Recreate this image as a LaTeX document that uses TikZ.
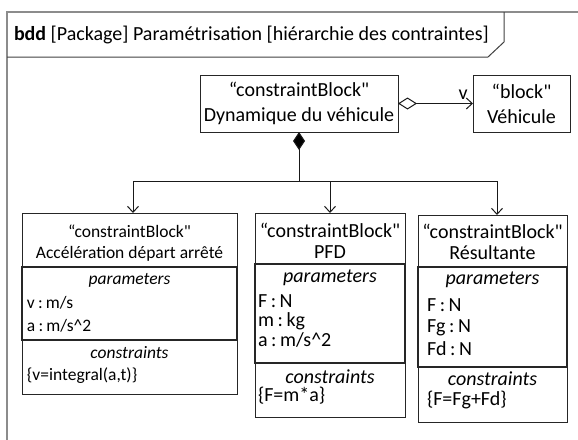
\documentclass[tikz,border=0pt]{standalone}
\usepackage{fontspec}
\setmainfont{Carlito}[Ligatures=TeXOff]
\usetikzlibrary{arrows.meta,shadows}
% tight colon used in the parameter lists
\newcommand{\cln}{\hspace{0.18em}:\hspace{0.18em}}

\begin{document}
\begin{tikzpicture}[x=1pt,y=-1pt,
  blk/.style={draw=black!85, line width=0.9pt, fill=white,
    drop shadow={shadow xshift=1.3pt, shadow yshift=-1.3pt, fill=black!30, opacity=1},
    inner sep=0pt, outer sep=0pt},
  big/.style={font=\fontsize{20}{25}\selectfont},
  small/.style={font=\fontsize{17.5}{21}\selectfont},
  txt/.style={inner sep=0pt, outer sep=0pt},
  conn/.style={draw=black!90, line width=1pt},
  openhead/.style={-{Straight Barb[length=6pt,width=11pt,line width=1pt]}},
  parbox/.style={draw=black!85, line width=1.5pt}
]
\useasboundingbox (0,0) rectangle (578,439);

% diagram frame and its title tab
\draw[black!45, line width=2pt] (7,440) -- (7,12) -- (579,12);
\draw[black!75, line width=1pt] (7,57) -- (488,57) -- (504,42) -- (504,12);
\node[txt, big, anchor=base west] (title) at (14,40)
  {\textbf{bdd} [Package] Paramétrisation [hiérarchie des contraintes]};

% upper blocks
\node[blk, big, minimum width=198pt, minimum height=57pt, align=center]
  (dyn) at (299,103.5) {“constraintBlock"\\Dynamique du véhicule};
\node[blk, big, minimum width=97pt, minimum height=57pt, align=center]
  (veh) at (521.5,103.5) {“block"\\Véhicule};

% constraint block: Accélération départ arrêté
\node[blk, minimum width=215pt, minimum height=181pt] (acc) at (129.5,303.5) {};
\draw[parbox] (22,267) rectangle (237,340);
\node[txt, small, anchor=base] (accst) at (129.5,237) {“constraintBlock"};
\node[txt, small, anchor=base] (accnm) at (129.5,258) {Accélération départ arrêté};
\node[txt, small, anchor=base] (accph) at (129.5,284) {\itshape parameters};
\node[txt, small, anchor=base west] (accp1) at (27,308) {v\cln m/s};
\node[txt, small, anchor=base west] (accp2) at (27,331) {a\cln m/s\^{}2};
\node[txt, small, anchor=base] (accch) at (129.5,358) {\itshape constraints};
\node[txt, small, anchor=base west] (accc1) at (27,380) {\{v=integral(a,t)\}};

% constraint block: PFD
\node[blk, minimum width=150pt, minimum height=204pt] (pfd) at (330,315) {};
\draw[parbox] (255,264) rectangle (405,363);
\node[txt, big, anchor=base] (pfdst) at (330,237) {“constraintBlock"};
\node[txt, big, anchor=base] (pfdnm) at (330,258) {PFD};
\node[txt, big, anchor=base] (pfdph) at (330,282) {\itshape parameters};
\node[txt, big, anchor=base west] (pfdp1) at (258,307) {F\cln N};
\node[txt, big, anchor=base west] (pfdp2) at (258,326) {m\cln kg};
\node[txt, big, anchor=base west] (pfdp3) at (258,346) {a\cln m/s\^{}2};
\node[txt, big, anchor=base] (pfdch) at (330,383) {\itshape constraints};
\node[txt, big, anchor=base west] (pfdc1) at (258,401) {\{F=m*a\}};

% constraint block: Résultante
\node[blk, minimum width=149pt, minimum height=207pt] (res) at (492.5,318.5) {};
\draw[parbox] (418,267) rectangle (567,367);
\node[txt, big, anchor=base] (resst) at (492.5,238) {“constraintBlock"};
\node[txt, big, anchor=base] (resnm) at (492.5,259) {Résultante};
\node[txt, big, anchor=base] (resph) at (492.5,284) {\itshape parameters};
\node[txt, big, anchor=base west] (resp1) at (427,311) {F\cln N};
\node[txt, big, anchor=base west] (resp2) at (427,332) {Fg\cln N};
\node[txt, big, anchor=base west] (resp3) at (427,355) {Fd\cln N};
\node[txt, big, anchor=base] (resch) at (492.5,385) {\itshape constraints};
\node[txt, big, anchor=base west] (resc1) at (427,405) {\{F=Fg+Fd\}};

% aggregation towards the vehicle block
\draw[conn, {Diamond[open,fill=white,length=19pt,width=12pt,line width=1pt]}-{Straight Barb[length=6pt,width=11pt,line width=1pt]}]
  (dyn.east) -- node[txt, big, pos=0.87, above=4pt] (vrole) {v} (veh.west);

% composition towards the three constraint blocks
\coordinate (bus) at (299,181);
\draw[conn, {Diamond[fill=black,length=18pt,width=12pt]}-] (dyn.south) -- (bus);
\draw[conn, openhead] (bus) -| ([xshift=3.5pt]acc.north);
\draw[conn, openhead] (bus) -| (pfd.north);
\draw[conn, openhead] (bus) -| ([xshift=4.5pt]res.north);
\end{tikzpicture}
\end{document}
